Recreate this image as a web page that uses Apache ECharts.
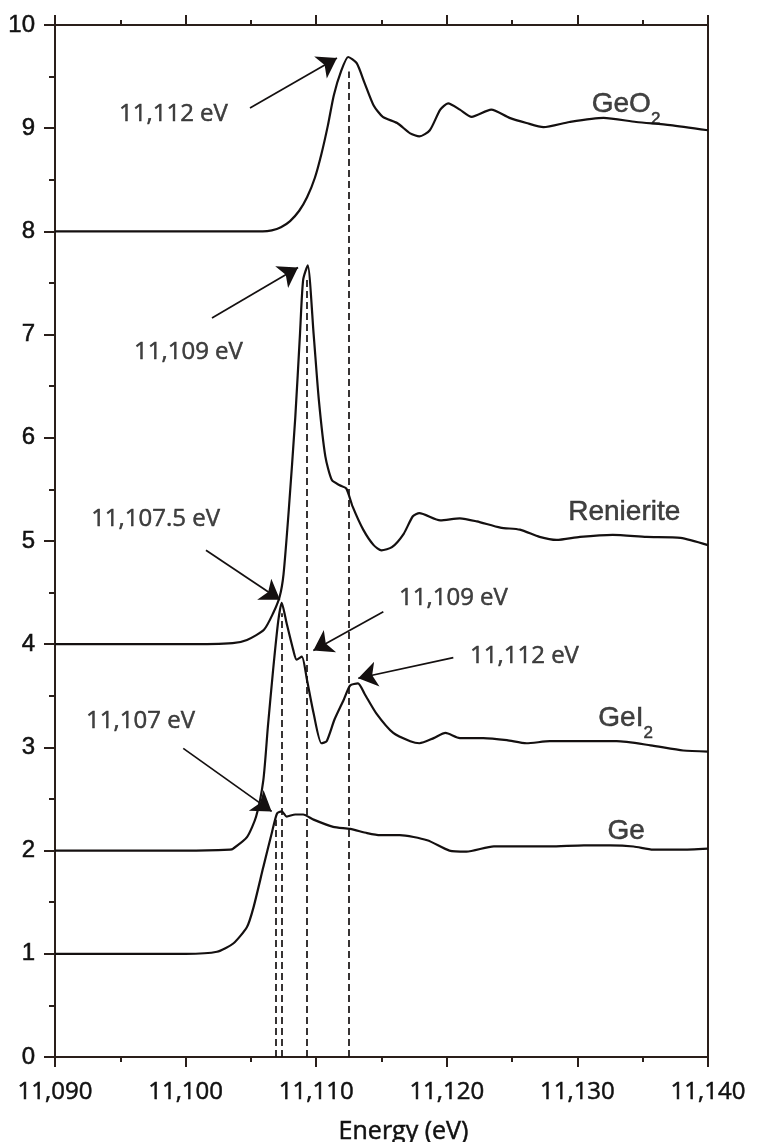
<!DOCTYPE html>
<html>
<head>
<meta charset="utf-8">
<script src="https://cdn.jsdelivr.net/npm/echarts@6/dist/echarts.min.js"></script>
<style>
html,body{margin:0;padding:0;background:#fff;}
#chart{width:761px;height:1142px;}
</style>
</head>
<body>
<div id="chart"></div>
<script>
// ---- tick labels ----
const energyTicks = [11090, 11100, 11110, 11120, 11130, 11140];
const xTickLabels = ['11,090', '11,100', '11,110', '11,120', '11,130', '11,140'];
const yTicks = [0,1,2,3,4,5,6,7,8,9,10];
const yTickLabels = ['0','1','2','3','4','5','6','7','8','9','10'];

// ---- spectra (normalized absorbance, offset) ----
const geo2E = [11090, 11100, 11104, 11105.9, 11106.6, 11107.3, 11108.0, 11108.7, 11109.3, 11109.9, 11110.4, 11110.9, 11111.35, 11111.9, 11112.45, 11113.1, 11113.7, 11114.4, 11115.1, 11116.2, 11117.2, 11117.9, 11118.7, 11119.5, 11120.1, 11121.0, 11121.9, 11123.4, 11124.8, 11126.1, 11127.4, 11129.4, 11132.0, 11134.5, 11137.1, 11140];
const geo2Y = [8.0, 8.0, 8.0, 8.0, 8.01, 8.04, 8.10, 8.20, 8.33, 8.52, 8.75, 9.03, 9.32, 9.55, 9.69, 9.63, 9.44, 9.22, 9.11, 9.05, 8.95, 8.92, 8.98, 9.18, 9.24, 9.18, 9.11, 9.18, 9.10, 9.05, 9.01, 9.06, 9.10, 9.06, 9.03, 8.98];

const renE = [11090, 11100, 11103.6, 11104.7, 11106.0, 11106.7, 11107.2, 11107.5, 11107.9, 11108.4, 11108.76, 11109.0, 11109.35, 11109.8, 11110.2, 11110.7, 11111.2, 11111.8, 11112.3, 11112.8, 11113.6, 11114.4, 11115.0, 11115.8, 11116.7, 11117.4, 11117.9, 11119.5, 11121.0, 11122.3, 11124.1, 11125.6, 11127.1, 11128.4, 11130.2, 11132.7, 11135.3, 11137.9, 11140];
const renY = [4.0, 4.0, 4.01, 4.04, 4.14, 4.30, 4.46, 4.68, 5.30, 6.20, 7.01, 7.53, 7.67, 7.01, 6.37, 5.82, 5.59, 5.54, 5.51, 5.33, 5.11, 4.96, 4.91, 4.94, 5.07, 5.24, 5.27, 5.20, 5.22, 5.19, 5.13, 5.11, 5.04, 5.01, 5.04, 5.06, 5.04, 5.03, 4.96];

const gei2E = [11090, 11100, 11103.4, 11103.65, 11104.7, 11105.4, 11105.95, 11106.3, 11106.7, 11107.1, 11107.36, 11107.74, 11108.25, 11108.5, 11108.9, 11109.3, 11109.8, 11110.4, 11110.8, 11111.4, 11112.1, 11112.6, 11113.2, 11113.7, 11114.6, 11115.9, 11117.2, 11117.9, 11119.0, 11119.9, 11121.0, 11122.8, 11124.6, 11126.1, 11127.9, 11130.5, 11133.0, 11135.6, 11138.1, 11140];
const gei2Y = [2.0, 2.0, 2.01, 2.02, 2.13, 2.33, 2.68, 3.20, 3.75, 4.23, 4.40, 4.20, 3.94, 3.85, 3.88, 3.65, 3.33, 3.04, 3.06, 3.27, 3.46, 3.60, 3.62, 3.52, 3.33, 3.14, 3.06, 3.04, 3.09, 3.14, 3.09, 3.09, 3.07, 3.04, 3.06, 3.06, 3.06, 3.02, 2.97, 2.96];

const geE = [11090, 11100, 11102.4, 11103.65, 11104.7, 11105.2, 11105.95, 11106.6, 11107.0, 11107.36, 11107.74, 11108.4, 11109.0, 11109.8, 11111.3, 11112.6, 11113.9, 11114.9, 11116.4, 11118.5, 11120.2, 11121.5, 11123.6, 11125.4, 11127.9, 11130.5, 11132.5, 11134.3, 11135.8, 11137.9, 11140];
const geY = [1.0, 1.0, 1.02, 1.10, 1.26, 1.45, 1.84, 2.17, 2.36, 2.38, 2.33, 2.35, 2.35, 2.30, 2.23, 2.21, 2.17, 2.15, 2.15, 2.10, 2.00, 1.99, 2.04, 2.04, 2.04, 2.05, 2.05, 2.04, 2.01, 2.01, 2.02];

// ---- sample labels ----
const sampleNames = ['GeO2', 'Renierite', 'GeI2', 'Ge'];
const sampleLabelE = [11131.1, 11129.3, 11131.6, 11132.3];
const sampleLabelY = [9.23, 5.28, 3.28, 2.19];

// ---- dashed peak markers ----
const dashE = [11106.9, 11107.4, 11109.3, 11112.5];
const dashTop = [2.3, 4.3, 7.53, 9.55];

// ---- annotations ----
const annoText = ['11,112 eV', '11,109 eV', '11,107.5 eV', '11,109 eV', '11,112 eV', '11,107 eV'];
const annoTextE = [11099.07, 11100.22, 11097.7, 11120.51, 11125.95, 11096.55];
const annoTextY = [9.14, 6.83, 5.21, 4.45, 3.885, 3.25];
const arrowFromE = [11104.93, 11102.02, 11101.56, 11115.14, 11120.5, 11099.82];
const arrowFromY = [9.196, 7.16, 4.91, 4.315, 3.87, 2.99];
const arrowToE = [11111.59, 11108.61, 11107.23, 11109.78, 11113.22, 11106.59];
const arrowToY = [9.68, 7.65, 4.43, 3.94, 3.67, 2.38];

// ---- build ----
const INK = '#141010';
const AX = '#2a1f1a';
const TXT = '#111111';
function pairs(xs, ys){ return xs.map((x,i)=>[x, ys[i]]); }
function curve(name, xs, ys){
  return {
    type:'line', name, data: pairs(xs, ys), xAxisIndex:0, yAxisIndex:0,
    showSymbol:false, symbol:'none', smooth:0.22,
    lineStyle:{color:INK, width:2.2}, silent:true, z:5
  };
}
function richName(n){
  const m = n.match(/^(.*?)(\d)$/);
  return m ? '{m|' + m[1] + '}{s|' + m[2] + '}' : '{m|' + n + '}';
}
const bold = {textBorderColor:TXT, textBorderWidth:0.5};

const chart = echarts.init(document.getElementById('chart'), null, {renderer:'canvas'});

chart.setOption({
  animation:false,
  backgroundColor:'#ffffff',
  grid:{left:55, right:53, top:25, bottom:85, containLabel:false, outerBoundsMode:'none'},
  xAxis:[
    {type:'value', position:'bottom', min:11090, max:11140, interval:10,
     axisLine:{show:true, onZero:false, lineStyle:{color:AX, width:2}},
     axisTick:{show:true, inside:false, length:10, lineStyle:{color:AX, width:2}},
     minorTick:{show:true, splitNumber:2, length:5, lineStyle:{color:AX, width:2}},
     splitLine:{show:false}, minorSplitLine:{show:false},
     axisLabel:Object.assign({margin:23, fontFamily:'Open Sans', fontSize:24, color:TXT,
       formatter:(v)=>{const i=energyTicks.indexOf(v); return i>=0?xTickLabels[i]:'';}}, bold),
     name:'Energy (eV)', nameLocation:'middle', nameGap:62,
     nameTextStyle:Object.assign({fontFamily:'Open Sans', fontSize:25, color:TXT, padding:[0,0,0,44]}, bold)
    },
    {type:'value', position:'top', min:11090, max:11140, interval:10,
     axisLine:{show:true, onZero:false, lineStyle:{color:AX, width:2}},
     axisTick:{show:true, inside:false, length:10, lineStyle:{color:AX, width:2}},
     minorTick:{show:true, splitNumber:2, length:5, lineStyle:{color:AX, width:2}},
     splitLine:{show:false}, axisLabel:{show:false}
    }
  ],
  yAxis:[
    {type:'value', position:'left', min:0, max:10, interval:1,
     axisLine:{show:true, onZero:false, lineStyle:{color:AX, width:2}},
     axisTick:{show:true, inside:false, length:11, lineStyle:{color:AX, width:2}},
     minorTick:{show:true, splitNumber:2, length:6, lineStyle:{color:AX, width:2}},
     splitLine:{show:false}, minorSplitLine:{show:false},
     axisLabel:Object.assign({margin:20, fontFamily:'Liberation Sans', fontSize:24, color:TXT,
       formatter:(v)=>{const i=yTicks.indexOf(v); return i>=0?yTickLabels[i]:'';}}, bold)
    },
    {type:'value', position:'right', min:0, max:10, interval:1,
     axisLine:{show:true, onZero:false, lineStyle:{color:AX, width:2}},
     axisTick:{show:false}, axisLabel:{show:false}, splitLine:{show:false}
    }
  ],
  series:[
    curve('GeO2', geo2E, geo2Y),
    curve('Renierite', renE, renY),
    curve('GeI2', gei2E, gei2Y),
    curve('Ge', geE, geY),
    {
      type:'lines', coordinateSystem:'cartesian2d', silent:true, z:3,
      polyline:false, symbol:['none','none'],
      lineStyle:{color:INK, width:1.7, type:[7,4], opacity:1},
      data: dashE.map((e,i)=>({coords:[[e,0],[e,dashTop[i]]]}))
    },
    {
      type:'lines', coordinateSystem:'cartesian2d', silent:true, z:6,
      symbol:['none','arrow'], symbolSize:[11,19],
      lineStyle:{color:INK, width:1.7, opacity:1},
      data: arrowFromE.map((e,i)=>({coords:[[e,arrowFromY[i]],[arrowToE[i],arrowToY[i]]]}))
    },
    {
      type:'scatter', silent:true, symbolSize:0, z:7,
      data: annoText.map((t,i)=>({name:t, value:[annoTextE[i], annoTextY[i]]})),
      label:Object.assign({show:true, position:'inside', formatter:(p)=>p.name,
        fontFamily:'Open Sans', fontSize:24, color:TXT}, bold)
    },
    {
      type:'scatter', silent:true, symbolSize:0, z:7,
      data: sampleNames.map((t,i)=>({name:t, value:[sampleLabelE[i], sampleLabelY[i]]})),
      label:{show:true, position:'right', distance:0, formatter:(p)=>richName(p.name),
        rich:{
          m:Object.assign({fontFamily:'Liberation Sans', fontSize:28, color:TXT, lineHeight:30}, bold),
          s:Object.assign({fontFamily:'Liberation Sans', fontSize:17, color:TXT, lineHeight:46, verticalAlign:'bottom'}, bold)
        }}
    }
  ]
});
</script>
</body>
</html>
